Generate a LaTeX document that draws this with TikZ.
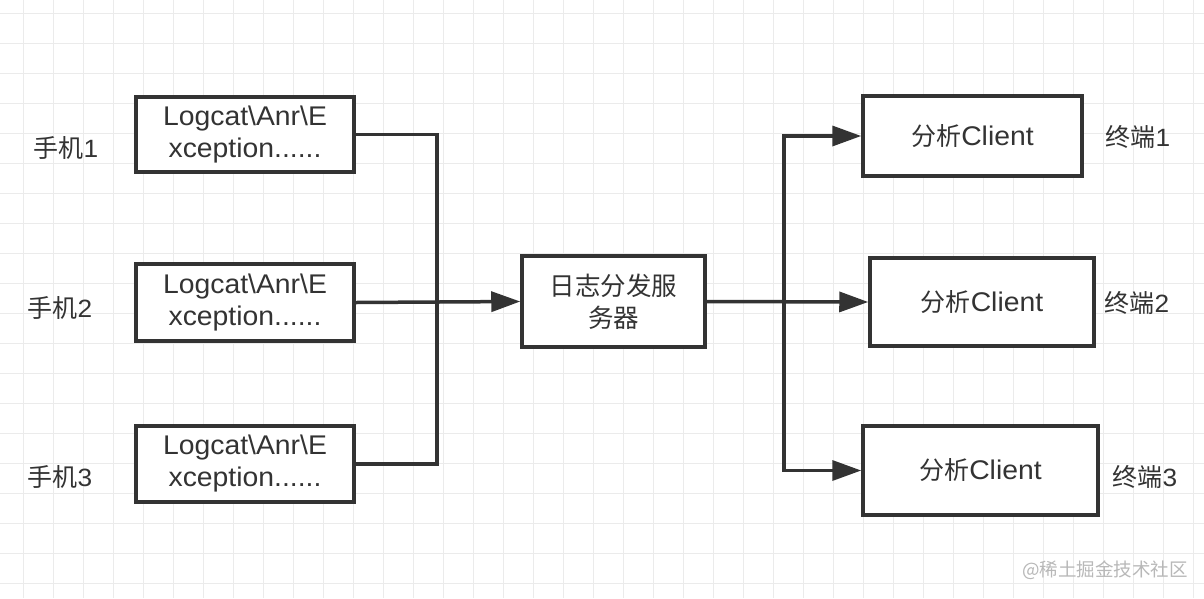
\documentclass[tikz,border=0pt]{standalone}
\usepackage{fontspec}
\setmainfont{Liberation Sans}[FakeStretch=1.05]
\newfontfamily\cjk{Noto Sans CJK SC}
\usetikzlibrary{arrows.meta}
\definecolor{ink}{HTML}{333333}
\definecolor{gridc}{HTML}{EBEBEB}
\definecolor{wmark}{HTML}{B8B8B8}
\tikzset{
  x=1pt, y=-1pt,
  box/.style={draw=ink, line width=3.5pt, fill=white, inner sep=0pt, align=center,
    font=\fontsize{27}{32}\selectfont, text=ink},
  lbl/.style={inner sep=0pt, font=\fontsize{25}{30}\selectfont, text=ink},
  conn/.style={draw=ink, line width=3.5pt, line join=miter},
  arr/.style={conn, -{Triangle[length=29pt,width=20pt]}},
}
\begin{document}
\begin{tikzpicture}
\useasboundingbox (0,0) rectangle (1204,598);
\fill[white] (0,0) rectangle (1204,598);
% grid
\foreach \gx in {23,53,...,1204} \draw[gridc, line width=1pt] (\gx,0) -- (\gx,598);
\foreach \gy in {13,43,...,598} \draw[gridc, line width=1pt] (0,\gy) -- (1204,\gy);

% left boxes
\node[box, minimum width=218pt, minimum height=75pt] (L1) at (245,134.5) {Logcat\textbackslash Anr\textbackslash E\\xception......};
\node[box, minimum width=218pt, minimum height=77pt] (L2) at (245,302.5) {Logcat\textbackslash Anr\textbackslash E\\xception......};
\node[box, minimum width=218pt, minimum height=76pt] (L3) at (245,464) {Logcat\textbackslash Anr\textbackslash E\\xception......};

\node[lbl] (p1) at (66,148) {{\cjk 手机}1};
\node[lbl] (p2) at (60,308) {{\cjk 手机}2};
\node[lbl] (p3) at (60,477) {{\cjk 手机}3};

% server
\node[box, minimum width=183pt, minimum height=91pt, font=\cjk\fontsize{25.5}{32}\selectfont] (S) at (613.5,301.5) {日志分发服\\务器};

% right boxes
\node[box, minimum width=219pt, minimum height=80pt] (R1) at (972.5,136) {{\cjk\fontsize{25}{32}\selectfont 分析}Client};
\node[box, minimum width=224pt, minimum height=88pt] (R2) at (982,302) {{\cjk\fontsize{25}{32}\selectfont 分析}Client};
\node[box, minimum width=235pt, minimum height=89pt] (R3) at (980.5,470.5) {{\cjk\fontsize{25}{32}\selectfont 分析}Client};

\node[lbl] (t1) at (1138,137) {{\cjk 终端}1};
\node[lbl] (t2) at (1137,303) {{\cjk 终端}2};
\node[lbl] (t3) at (1145,477) {{\cjk 终端}3};

% junctions
\coordinate (ja) at (437,302);
\coordinate (jr) at (784,302);

% connectors left
\draw[conn] (L1.east) -| (ja);
\draw[conn] (L3.east) -| (ja);
\draw[arr] (L2.east) -- (S.west);

% connectors right
\draw[arr] (S.east) -- (R2.west);
\draw[arr] (jr) |- (R1.west);
\draw[arr] (jr) |- (R3.west);

% watermark
\node[inner sep=0pt, text=wmark, font=\cjk\fontsize{18.5}{22}\selectfont] (wm) at (1105,570) {@稀土掘金技术社区};
\end{tikzpicture}
\end{document}
